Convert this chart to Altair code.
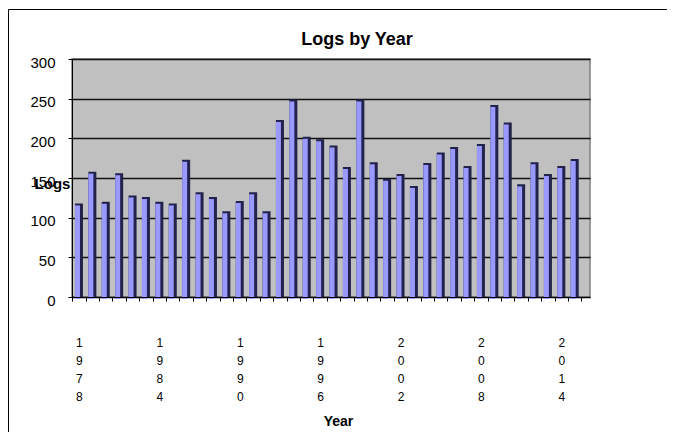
import altair as alt
import pandas as pd

years = list(range(1978, 2016))
logs = [118, 158, 120, 156, 128, 126, 120, 118, 173, 132,
        126, 108, 121, 132, 108, 223, 249, 202, 199, 191,
        164, 249, 170, 149, 155, 140, 169, 182, 189, 165,
        193, 242, 220, 142, 170, 155, 165, 174]
y_ticks = [0, 50, 100, 150, 200, 250, 300]

df = pd.DataFrame({"Year": years, "Logs": logs})

FONT = "Liberation Sans"
W, H = 518, 238

xscale = alt.Scale(paddingInner=0, paddingOuter=0.33, align=0.03)
yscale = alt.Scale(domain=[0, 300])

x_axis = alt.Axis(
    title="Year", titleFont=FONT, titleFontSize=14, titleFontWeight="bold",
    titleColor="black", titleX=266, titleY=124, titleBaseline="middle",
    labelExpr="(datum.value - 1978) % 6 == 0 ? split(datum.label, '') : ''",
    labelAngle=0, labelFont=FONT, labelFontSize=12, labelColor="black",
    labelLineHeight=18, labelPadding=36, labelBaseline="top", labelOverlap=False,
    tickBand="extent", tickColor="black", tickSize=4,
    domainColor="black", zindex=1,
)
y_axis = alt.Axis(
    title="Logs", titleFont=FONT, titleFontSize=15, titleFontWeight="bold",
    titleColor="black", titleAngle=0, titleX=-20, titleY=124,
    titleAlign="center", titleBaseline="middle",
    values=y_ticks, labelFont=FONT, labelFontSize=15, labelColor="black",
    labelOverlap=False, labelPadding=13, labelOffset=3, tickColor="black", tickSize=4,
    domainColor="black", gridColor="#111111", gridWidth=1.5, zindex=0,
)

base = alt.Chart(df).encode(
    x=alt.X("Year:O", scale=xscale, axis=x_axis),
    y=alt.Y("Logs:Q", scale=yscale, axis=y_axis),
)

dark = base.mark_bar(color="#22224d", width=8)
light = base.mark_bar(color="#9999FF", width=5, xOffset=-1.5, yOffset=2, y2Offset=0)

one = alt.Chart(pd.DataFrame({"a": [0]}))
border = one.mark_rect(filled=False, stroke="black", strokeWidth=1).encode(
    x=alt.value(-63.5), x2=alt.value(700), y=alt.value(-49.5), y2=alt.value(500)
)
title = one.mark_text(
    text="Logs by Year", font=FONT, fontSize=18, fontWeight="bold",
    color="black", align="center", baseline="alphabetic"
).encode(x=alt.value(285), y=alt.value(-14))

chart = alt.layer(border, dark, light, title).properties(
    width=W, height=H,
    background="white",
    autosize=alt.AutoSizeParams(type="none"),
    padding={"left": 64, "top": 51, "right": 77, "bottom": 135},
).configure_view(
    fill="#C0C0C0", stroke="#808080", strokeWidth=1.5
)

chart.save("out.html", embed_options={"renderer": "svg", "actions": False})
